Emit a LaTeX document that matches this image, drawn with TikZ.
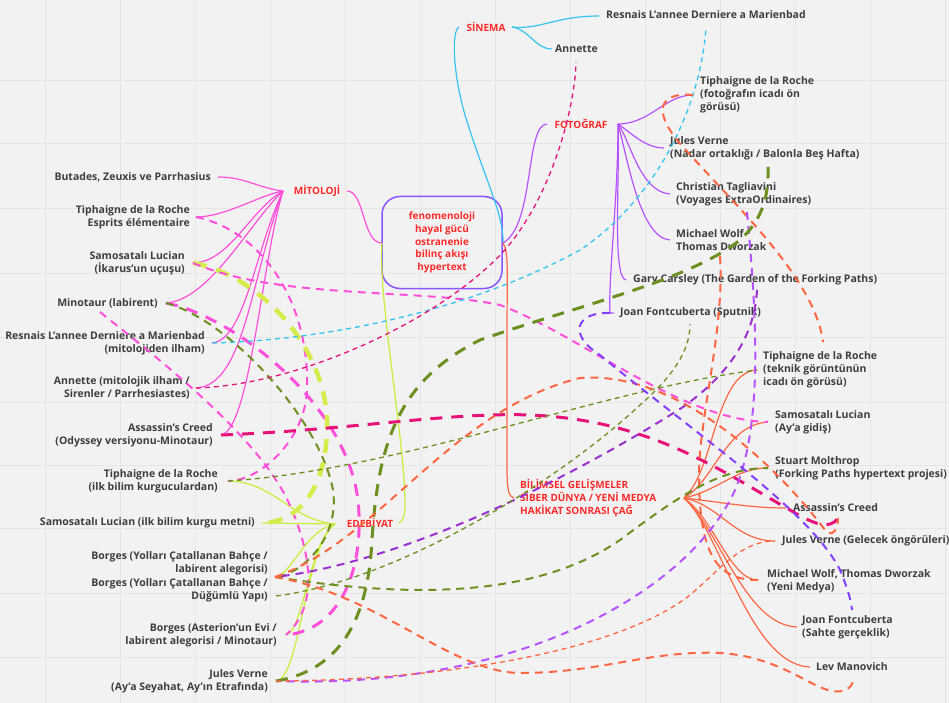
\documentclass[tikz,border=0pt]{standalone}
\usepackage{fontspec}
\setmainfont{Open Sans}
\definecolor{bgC}{HTML}{F2F2F2}
\definecolor{gridC}{HTML}{E5E5E5}
\definecolor{txtC}{HTML}{3E3E3E}
\definecolor{redC}{HTML}{FF2B2B}
\definecolor{pinkC}{HTML}{FF4FDB}
\definecolor{limeC}{HTML}{C9EE3A}
\definecolor{ylwC}{HTML}{D6EC4C}
\definecolor{cyanC}{HTML}{33C4F2}
\definecolor{purC}{HTML}{B652FF}
\definecolor{boxC}{HTML}{8A55FF}
\definecolor{orgC}{HTML}{FF6642}
\definecolor{crimC}{HTML}{E6127A}
\definecolor{oliveC}{HTML}{6B9020}
\definecolor{dpurC}{HTML}{9B30D0}
\definecolor{bpurC}{HTML}{8440FF}
\begin{document}
\begin{tikzpicture}[x=1pt,y=-1pt,
  lbl/.style={font=\fontsize{10.5}{13}\selectfont\bfseries, text=txtC, inner sep=0pt},
  lft/.style={lbl, anchor=east, align=right},
  rgt/.style={lbl, anchor=west, align=left},
  cat/.style={font=\fontsize{10}{13}\selectfont\bfseries, text=redC, inner sep=0pt},
  sol/.style={line width=1.2pt},
  dthin/.style={line width=1.3pt, dash pattern=on 5pt off 4pt},
  dmed/.style={line width=2pt, dash pattern=on 8pt off 6pt},
  dthick/.style={line width=3pt, dash pattern=on 12pt off 9pt},
  dxthick/.style={line width=4.5pt, dash pattern=on 14pt off 10pt},
  gridln/.style={draw=gridC, line width=0.8pt}]
\useasboundingbox (0,0) rectangle (949,703);
\fill[bgC] (0,0) rectangle (949,703);
\foreach \gx in {45,120,195,270,345,420,495,570,645,720,795,870,945}
  \draw[gridln] (\gx,0) -- (\gx,703);
\foreach \gy in {80,143,208,273,337,402,465,528,593,657}
  \draw[gridln] (0,\gy) -- (949,\gy);

% ---------- central box and categories
\node[draw=boxC, line width=1.5pt, rounded corners=18pt, minimum width=120pt, minimum height=92pt,
      font=\fontsize{10}{12.7}\selectfont\bfseries, text=redC, align=center] (core) at (442,242.5)
      {fenomenoloji\\hayal gücü\\ostranenie\\bilinç akışı\\hypertext};
\node[cat] (mit) at (317,191) {MİTOLOJİ};
\node[cat] (ede) at (370,523) {EDEBİYAT};
\node[cat] (sin) at (486,27) {SİNEMA};
\node[cat] (fot) at (581,124) {FOTOĞRAF};
\node[cat, anchor=west, align=left] (bil) at (520,498) {BİLİMSEL GELİŞMELER\\SİBER DÜNYA / YENİ MEDYA\\HAKİKAT SONRASI ÇAĞ};

% ---------- left nodes
\node[lft] (butades) at (211,177) {Butades, Zeuxis ve Parrhasius};
\node[lft] (tiph1) at (190,217) {Tiphaigne de la Roche\\Esprits élémentaire};
\node[lft] (samo1) at (185,263) {Samosatalı Lucian\\(İkarus’un uçuşu)};
\node[lft] (mino) at (158,303) {Minotaur (labirent)};
\node[lft] (resn1) at (205,343) {Resnais L’annee Derniere a Marienbad\\(mitolojiden ilham)};
\node[lft] (anne1) at (190,388) {Annette (mitolojik ilham /\\Sirenler / Parrhesiastes)};
\node[lft] (assa1) at (213,435) {Assassin’s Creed\\(Odyssey versiyonu-Minotaur)};
\node[lft] (tiph2) at (218,481) {Tiphaigne de la Roche\\(ilk bilim kurguculardan)};
\node[lft] (samo2) at (255,523) {Samosatalı Lucian (ilk bilim kurgu metni)};
\node[lft] (borg1) at (268,563) {Borges (Yolları Çatallanan Bahçe /\\labirent alegorisi)};
\node[lft] (borg2) at (268,590) {Borges (Yolları Çatallanan Bahçe /\\Düğümlü Yapı)};
\node[lft] (borg3) at (277,635) {Borges (Asterion’un Evi /\\labirent alegorisi / Minotaur)};
\node[lft] (jv1) at (268,681) {Jules Verne\\(Ay’a Seyahat, Ay’ın Etrafında)};

% ---------- right nodes
\node[rgt] (resn2) at (606,15) {Resnais L’annee Derniere a Marienbad};
\node[rgt] (anne2) at (555,49) {Annette};
\node[rgt] (tiph3) at (700,95) {Tiphaigne de la Roche\\(fotoğrafın icadı ön\\görüsü)};
\node[rgt] (jv2) at (670,148) {Jules Verne\\(Nadar ortaklığı / Balonla Beş Hafta)};
\node[rgt] (tagl) at (676,194) {Christian Tagliavini\\(Voyages ExtraOrdinaires)};
\node[rgt] (mw1) at (676,240) {Michael Wolf\\Thomas Dworzak};
\node[rgt] (gary) at (633,280) {Gary Carsley (The Garden of the Forking Paths)};
\node[rgt] (joan1) at (620,313) {Joan Fontcuberta (Sputnik)};
\node[rgt] (tiph4) at (763,370) {Tiphaigne de la Roche\\(teknik görüntünün\\icadı ön görüsü)};
\node[rgt] (samo3) at (775,422) {Samosatalı Lucian\\(Ay’a gidiş)};
\node[rgt] (stua) at (775,468) {Stuart Molthrop\\(Forking Paths hypertext projesi)};
\node[rgt] (assa2) at (793,508) {Assassin’s Creed};
\node[rgt] (jv3) at (782,541) {Jules Verne (Gelecek öngörüleri)};
\node[rgt] (mw2) at (767,581) {Michael Wolf, Thomas Dworzak\\(Yeni Medya)};
\node[rgt] (joan2) at (802,627) {Joan Fontcuberta\\(Sahte gerçeklik)};
\node[rgt] (lev) at (816,667) {Lev Manovich};

% ---------- attachment points
\coordinate (mitH) at (283,191); \coordinate (mitR) at (347,191);
\coordinate (edeH) at (335,524); \coordinate (edeR) at (399,523);
\coordinate (sinL) at (459,27);  \coordinate (sinR) at (512,27);
\coordinate (fotL) at (547,124); \coordinate (fotH) at (618,124);
\coordinate (bilL) at (514,498); \coordinate (bilH) at (684,498);
\coordinate (coreL) at (382,243); \coordinate (coreR) at (503,243);
\coordinate (cButades) at (218,177); \coordinate (cTiph1) at (196,217);
\coordinate (cSamo1) at (193,263); \coordinate (cMino) at (166,303);
\coordinate (cResn1) at (212,343); \coordinate (cAnne1) at (196,388);
\coordinate (cAssa1) at (221,435); \coordinate (cTiph2) at (228,481);
\coordinate (cSamo2) at (262,523); \coordinate (cBorg1) at (275,577);
\coordinate (cBorg2) at (276,596); \coordinate (cBorg3) at (286,635);
\coordinate (cJv1) at (276,681);
\coordinate (cResn2) at (599,16); \coordinate (cAnne2) at (552,49);
\coordinate (cTiph3) at (693,95); \coordinate (cJv2) at (664,148);
\coordinate (cTagl) at (670,194); \coordinate (cMw1) at (670,240);
\coordinate (cGary) at (626,280); \coordinate (cJoan1) at (610,313);
\coordinate (cTiph4) at (757,370); \coordinate (cSamo3) at (768,422);
\coordinate (cStua) at (768,468); \coordinate (cAssa2) at (786,508);
\coordinate (cJv3) at (775,541); \coordinate (cMw2) at (758,580);
\coordinate (cJoan2) at (797,627); \coordinate (cLev) at (810,667);
\coordinate (eResn2) at (706,28); \coordinate (eAnne2) at (576,62);
\coordinate (eJv2) at (768,167); \coordinate (eTiph4) at (823,342);
\coordinate (eMw1) at (720,256); \coordinate (eTagl) at (747,212);
\coordinate (eJoan1) at (757,290); \coordinate (eGary) at (690,324);
\coordinate (eAssa2) at (838,518); \coordinate (eLev) at (852,680);
\coordinate (eJoan2) at (852,610); \coordinate (eMino) at (100,312);

% ---------- solid mind-map branches
\begin{scope}[sol, draw=pinkC]
\draw (mitH) .. controls (258,188) and (245,177) .. (cButades);
\draw (mitH) .. controls (260,195) and (225,217) .. (cTiph1);
\draw (mitH) .. controls (250,210) and (230,262) .. (cSamo1);
\draw (mitH) .. controls (250,222) and (210,300) .. (cMino);
\draw (mitH) .. controls (255,250) and (245,340) .. (cResn1);
\draw (mitH) .. controls (250,280) and (245,385) .. (cAnne1);
\draw (mitH) .. controls (262,260) and (250,430) .. (cAssa1);
\draw (mitR) .. controls (365,191) and (362,243) .. (coreL);
\end{scope}
\begin{scope}[sol, draw=limeC]
\draw (edeH) .. controls (290,520) and (275,482) .. (cTiph2);
\draw (edeH) -- (cSamo2);
\draw (edeH) .. controls (305,530) and (292,575) .. (cBorg1);
\draw (edeH) .. controls (310,540) and (303,632) .. (cBorg3);
\draw (edeH) .. controls (305,545) and (300,680) .. (cJv1);
\draw (coreL) .. controls (378,300) and (405,440) .. (405,505) .. controls (405,515) and (403,521) .. (edeR);
\end{scope}
\begin{scope}[sol, draw=cyanC]
\draw (sinL) .. controls (452,30) and (452,70) .. (465,115) .. controls (485,180) and (504,215) .. (coreR);
\draw (sinR) .. controls (540,30) and (555,16) .. (cResn2);
\draw (sinR) .. controls (530,30) and (535,49) .. (cAnne2);
\end{scope}
\begin{scope}[sol, draw=purC]
\draw (fotL) .. controls (525,124) and (535,225) .. (coreR);
\draw (fotH) .. controls (650,124) and (665,95) .. (cTiph3);
\draw (fotH) .. controls (630,132) and (645,148) .. (cJv2);
\draw (fotH) .. controls (630,140) and (640,192) .. (cTagl);
\draw (fotH) .. controls (628,160) and (640,238) .. (cMw1);
\draw (fotH) .. controls (620,180) and (612,278) .. (cGary);
\draw (fotH) .. controls (618,200) and (608,280) .. (cJoan1) -- (614,313);
\end{scope}
\begin{scope}[sol, draw=orgC]
\draw (coreR) .. controls (509,250) and (507,280) .. (507,330) -- (507,470) .. controls (507,490) and (509,497) .. (bilL);
\draw (bilH) .. controls (715,470) and (715,372) .. (cTiph4);
\draw (bilH) .. controls (715,480) and (725,425) .. (cSamo3);
\draw (bilH) .. controls (720,490) and (735,468) .. (cStua);
\draw (bilH) .. controls (720,502) and (750,508) .. (cAssa2);
\draw (bilH) .. controls (720,505) and (735,541) .. (cJv3);
\draw (bilH) .. controls (715,520) and (730,580) .. (cMw2);
\draw (bilH) .. controls (720,530) and (745,625) .. (cJoan2);
\draw (bilH) .. controls (720,530) and (750,665) .. (cLev);
\end{scope}

% ---------- dashed cross links
\draw[dmed, pinkC] (cTiph1) .. controls (260,230) and (310,300) .. (307,390) .. controls (305,440) and (260,481) .. (cTiph2);
\draw[dmed, pinkC] (eMino) .. controls (160,360) and (250,430) .. (285,495) .. controls (305,535) and (325,600) .. (cBorg3);
\draw[dthick, pinkC] (cMino) .. controls (230,315) and (345,400) .. (358,500) .. controls (365,570) and (340,630) .. (cBorg3);
\draw[dmed, oliveC] (cMino) .. controls (230,320) and (320,420) .. (333,490) .. controls (340,540) and (300,575) .. (cBorg1);
\draw[dxthick, ylwC] (cSamo1) .. controls (260,275) and (330,350) .. (327,430) .. controls (325,500) and (290,523) .. (cSamo2);
\draw[dmed, pinkC] (cSamo1) .. controls (280,300) and (420,288) .. (500,305) .. controls (580,335) and (680,420) .. (cSamo3);
\draw[dthin, cyanC] (cResn1) .. controls (330,340) and (470,310) .. (580,250) .. controls (655,200) and (700,110) .. (eResn2);
\draw[dthin, crimC] (cAnne1) .. controls (300,385) and (440,320) .. (503,252) .. controls (550,200) and (575,110) .. (eAnne2);
\draw[dthick, crimC] (cAssa1) .. controls (350,430) and (450,412) .. (530,415) .. controls (650,420) and (720,470) .. (790,510) .. controls (815,525) and (830,530) .. (eAssa2);
\draw[dmed, orgC] (cTiph3) .. controls (660,92) and (650,110) .. (683,147) .. controls (740,210) and (815,280) .. (eTiph4);
\draw[dmed, orgC] (eMw1) .. controls (725,330) and (698,420) .. (699,480) .. controls (700,560) and (720,580) .. (cMw2);
\draw[dmed, purC] (eTagl) .. controls (755,300) and (765,420) .. (735,490) .. controls (690,590) and (520,690) .. (cJv1);
\draw[dmed, dpurC] (eJoan1) .. controls (755,330) and (735,370) .. (683,407) .. controls (600,460) and (420,560) .. (cBorg1);
\draw[dthick, oliveC] (cJv1) .. controls (340,670) and (368,620) .. (372,540) .. controls (378,440) and (400,380) .. (480,340) .. controls (580,305) and (690,280) .. (740,240) .. controls (760,222) and (769,200) .. (eJv2);
\draw[dthin, oliveC] (cTiph2) .. controls (400,470) and (600,390) .. (cTiph4);
\draw[dthin, oliveC] (cBorg2) .. controls (400,580) and (560,480) .. (640,405) .. controls (680,370) and (690,345) .. (eGary);
\draw[dmed, oliveC] (cBorg1) .. controls (420,600) and (540,595) .. (620,540) .. controls (680,495) and (720,468) .. (cStua);
\draw[dmed, orgC] (cBorg1) .. controls (380,540) and (450,410) .. (580,378) .. controls (680,370) and (780,470) .. (825,530) .. controls (832,538) and (838,530) .. (eAssa2);
\draw[dmed, orgC] (cBorg1) .. controls (380,595) and (450,672) .. (520,673) .. controls (600,673) and (650,650) .. (720,653) .. controls (790,657) and (820,700) .. (845,690) .. controls (852,687) and (853,683) .. (eLev);
\draw[dthin, orgC] (cJv1) .. controls (450,680) and (620,650) .. (690,595) .. controls (720,570) and (740,541) .. (cJv3);
\draw[dmed, bpurC] (cJoan1) .. controls (575,312) and (568,335) .. (600,355) .. controls (690,430) and (810,510) .. (840,570) .. controls (848,590) and (851,600) .. (eJoan2);
\end{tikzpicture}
\end{document}
